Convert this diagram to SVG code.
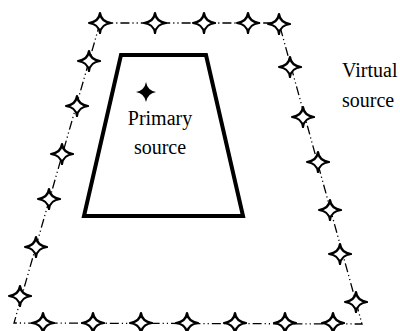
<svg xmlns="http://www.w3.org/2000/svg" xmlns:xlink="http://www.w3.org/1999/xlink" width="400" height="331" viewBox="0 0 400 331">
<style>
.outer{fill:none;stroke:#000;stroke-width:1.3;stroke-dasharray:9 3 1.2 3 1.2 3}
.inner{fill:none;stroke:#000;stroke-width:4;stroke-linejoin:miter}
.lbl{font-family:"Liberation Serif","Times New Roman",serif;font-size:20px;fill:#000}
.vs{fill:#fff;stroke:#000;stroke-width:2.2;stroke-linejoin:round}
</style>
<defs>
<path id="star" class="vs" d="M-11,0 Q-1.2,-1.2 0,-10 Q1.2,-1.2 11,0 Q1.2,1.2 0,10 Q-1.2,1.2 -11,0 Z"/>
</defs>
<rect width="400" height="331" fill="#fff"/>
<g id="virtual-source">
<polygon class="outer" points="100,23 279,23 362,324 14,323"/>
<g id="virtual-points">
<use xlink:href="#star" x="100" y="23"/>
<use xlink:href="#star" x="155" y="23"/>
<use xlink:href="#star" x="204" y="23"/>
<use xlink:href="#star" x="248" y="23"/>
<use xlink:href="#star" x="279" y="24"/>
<use xlink:href="#star" x="290" y="67"/>
<use xlink:href="#star" x="303" y="117"/>
<use xlink:href="#star" x="318" y="162"/>
<use xlink:href="#star" x="330" y="210"/>
<use xlink:href="#star" x="340" y="254"/>
<use xlink:href="#star" x="356" y="302"/>
<use xlink:href="#star" x="89" y="61"/>
<use xlink:href="#star" x="77" y="106"/>
<use xlink:href="#star" x="62" y="154"/>
<use xlink:href="#star" x="49" y="199"/>
<use xlink:href="#star" x="36" y="247"/>
<use xlink:href="#star" x="20" y="296"/>
<use xlink:href="#star" x="43" y="323"/>
<use xlink:href="#star" x="93" y="323"/>
<use xlink:href="#star" x="141" y="323"/>
<use xlink:href="#star" x="187" y="323"/>
<use xlink:href="#star" x="235" y="323"/>
<use xlink:href="#star" x="285" y="323"/>
<use xlink:href="#star" x="333" y="323"/>
</g>
<text class="lbl" x="342" y="77">Virtual</text>
<text class="lbl" x="342" y="107">source</text>
</g>
<g id="primary-source">
<polygon class="inner" points="121,55 206,55 243,216 84,216"/>
<path d="M-10,0 Q-1.5,-1.5 0,-10 Q1.5,-1.5 10,0 Q1.5,1.5 0,10 Q-1.5,1.5 -10,0 Z" transform="translate(146,92)" fill="#000"/>
<text class="lbl" x="160" y="125" text-anchor="middle">Primary</text>
<text class="lbl" x="160" y="154" text-anchor="middle">source</text>
</g>
</svg>
